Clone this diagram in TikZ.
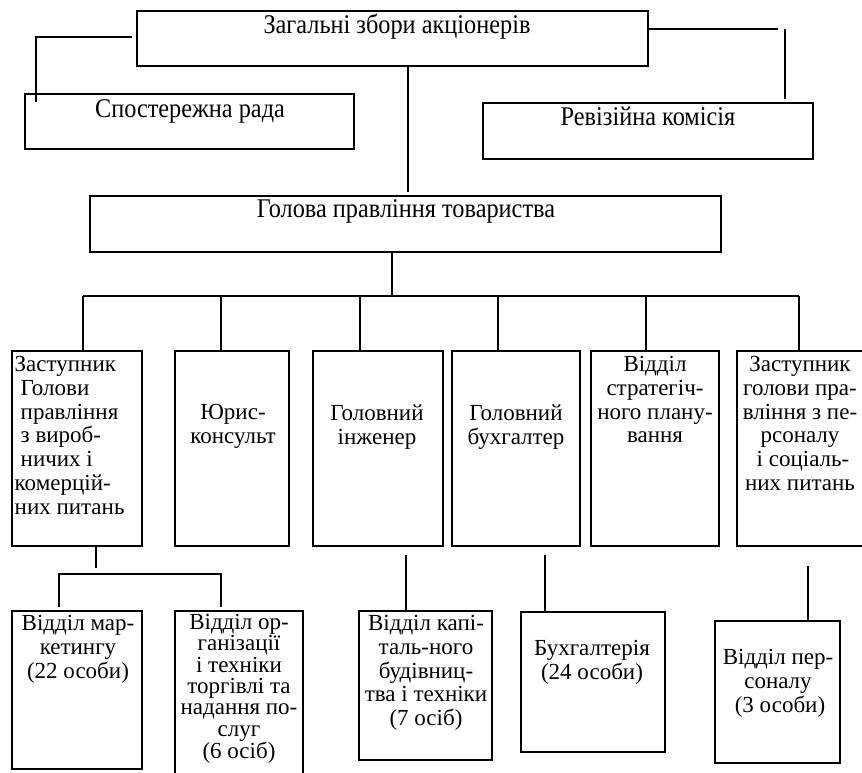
\documentclass[tikz,border=0pt]{standalone}
\usepackage{fontspec}
\setmainfont{Liberation Serif}
\newfontfamily\condfont[FakeStretch=0.9]{Liberation Serif}
\newcommand\fsbig{\condfont\fontsize{27}{30}\selectfont}
\newcommand\fs{\fontsize{23}{23.7}\selectfont}
\newcommand\fst{\fontsize{23}{21.3}\selectfont}
\newcommand\mkbox[5]{\node[boxst, minimum width={(#4)-(#2)}, minimum height={(#5)-(#3)}, anchor=north west] (#1) at (#2,#3) {};}
\begin{document}
\begin{tikzpicture}[x=1pt,y=-1pt,
  boxst/.style={draw=black, line width=2pt, inner sep=0pt, outer sep=0pt, fill=none},
  ln/.style={draw=black, line width=1.4pt},
  lnthick/.style={draw=black, line width=2.2pt},
  tone/.style={anchor=base, inner sep=0pt, font=\fsbig},
  tmulti/.style={anchor=north, inner sep=0pt, align=center, font=\fs, execute at begin node=\strut},
  ttight/.style={anchor=north, inner sep=0pt, align=center, font=\fst, execute at begin node=\strut},
  tleft/.style={anchor=north west, inner sep=0pt, align=left, font=\fs, execute at begin node=\strut}]
\useasboundingbox[fill=white] (0,0) rectangle (862,772);

% level 1 boxes
\mkbox{top}{137}{11}{648}{66}
\mkbox{spect}{25}{94}{354}{149}
\mkbox{rev}{483}{103}{813}{159}
\mkbox{head}{90}{196}{721}{252}

% level 2 boxes
\mkbox{b1}{12}{351}{142}{546}
\mkbox{b2}{175}{351}{289}{546}
\mkbox{b3}{313}{351}{443}{546}
\mkbox{b4}{452}{351}{580}{546}
\mkbox{b5}{591}{351}{719}{546}
\mkbox{b6}{737}{351}{865}{546}

% level 3 boxes
\mkbox{m1}{12}{611}{142}{769}
\mkbox{m2}{175}{611}{303}{782}
\mkbox{m3}{359}{611}{492}{760}
\mkbox{m4}{521}{612}{665}{752}
\mkbox{m5}{715}{621}{840}{763}

% texts level 1
\node[tone] (ttop) at (397,33) {Загальні збори акціонерів};
\node[tone] (tspect) at (190,117) {Спостережна рада};
\node[tone] (trev) at (648,125) {Ревізійна комісія};
\node[tone] (thead) at (406,217) {Голова правління товариства};

% texts level 2
\node[tleft] (tb1) at (14.5,356.4) {Заступник\\\hspace*{6pt}Голови\\\hspace*{6pt}правління\\\hspace*{6pt}з вироб-\\\hspace*{6pt}ничих і\\комерцій-\\них питань};
\node[tmulti] (tb2) at (233,404.4) {Юрис-\\консульт};
\node[tmulti] (tb3) at (377,404.4) {Головний\\інженер};
\node[tmulti] (tb4) at (516,404.4) {Головний\\бухгалтер};
\node[tmulti] (tb5) at (655,356.4) {Відділ\\стратегіч-\\ного плану-\\вання};
\node[tmulti] (tb6) at (800,356.4) {Заступник\\голови пра-\\вління з пе-\\рсоналу\\\hspace*{6pt}і соціаль-\\них питань};

% texts level 3
\node[tmulti] (tm1) at (78,615.4) {Відділ мар-\\кетингу\\(22 особи)};
\node[ttight] (tm2) at (239,614.1) {Відділ ор-\\ганізації\\і техніки\\торгівлі та\\надання по-\\слуг\\(6 осіб)};
\node[tmulti] (tm3) at (426,615.4) {Відділ капі-\\таль-ного\\будівниц-\\тва і техніки\\(7 осіб)};
\node[tmulti] (tm4) at (592,640.4) {Бухгалтерія\\(24 особи)};
\node[tmulti] (tm5) at (778,649.4) {Відділ пер-\\соналу\\\hspace*{4pt}(3 особи)};

% connectors level 1
\coordinate (cl1) at (132,37);
\coordinate (cl2) at (36,102);
\draw[ln] (cl1) -| (cl2);
\coordinate (cr1) at (778,29);
\draw[lnthick] (cr1 -| top.east) -- (cr1);
\coordinate (cr2) at (785,29);
\coordinate (cr3) at (785,99);
\draw[ln] (cr2) -- (cr3);
\coordinate (t1) at (408,192);
\draw[ln] (t1 |- top.south) -- (t1);

% bus level 2
\coordinate (tb) at (392,296);
\draw[ln] (tb |- head.south) -- (tb);
\coordinate (d1) at (83,296);
\coordinate (d2) at (221,296);
\coordinate (d3) at (360,296);
\coordinate (d4) at (498,296);
\coordinate (d5) at (646,296);
\coordinate (d6) at (799,296);
\draw[ln] (d1) -- (d6);
\draw[ln] (d1) -- (d1 |- b1.north);
\draw[ln] (d2) -- (d2 |- b2.north);
\draw[ln] (d3) -- (d3 |- b3.north);
\draw[ln] (d4) -- (d4 |- b4.north);
\draw[ln] (d5) -- (d5 |- b5.north);
\draw[ln] (d6) -- (d6 |- b6.north);

% level 3 connectors
\coordinate (s0) at (96,568);
\draw[ln] (s0 |- b1.south) -- (s0);
\coordinate (sa) at (59,574);
\coordinate (sb) at (221,574);
\draw[ln] ([yshift=4pt]sa |- m1.north) -- (sa) -- (sb) -- ([yshift=4pt]sb |- m2.north);
\coordinate (k3) at (406,555);
\draw[ln] (k3) -- (k3 |- m3.north);
\coordinate (k4) at (545,555);
\draw[ln] (k4) -- (k4 |- m4.north);
\coordinate (k5) at (808,566);
\draw[ln] (k5) -- (k5 |- m5.north);
\end{tikzpicture}
\end{document}
